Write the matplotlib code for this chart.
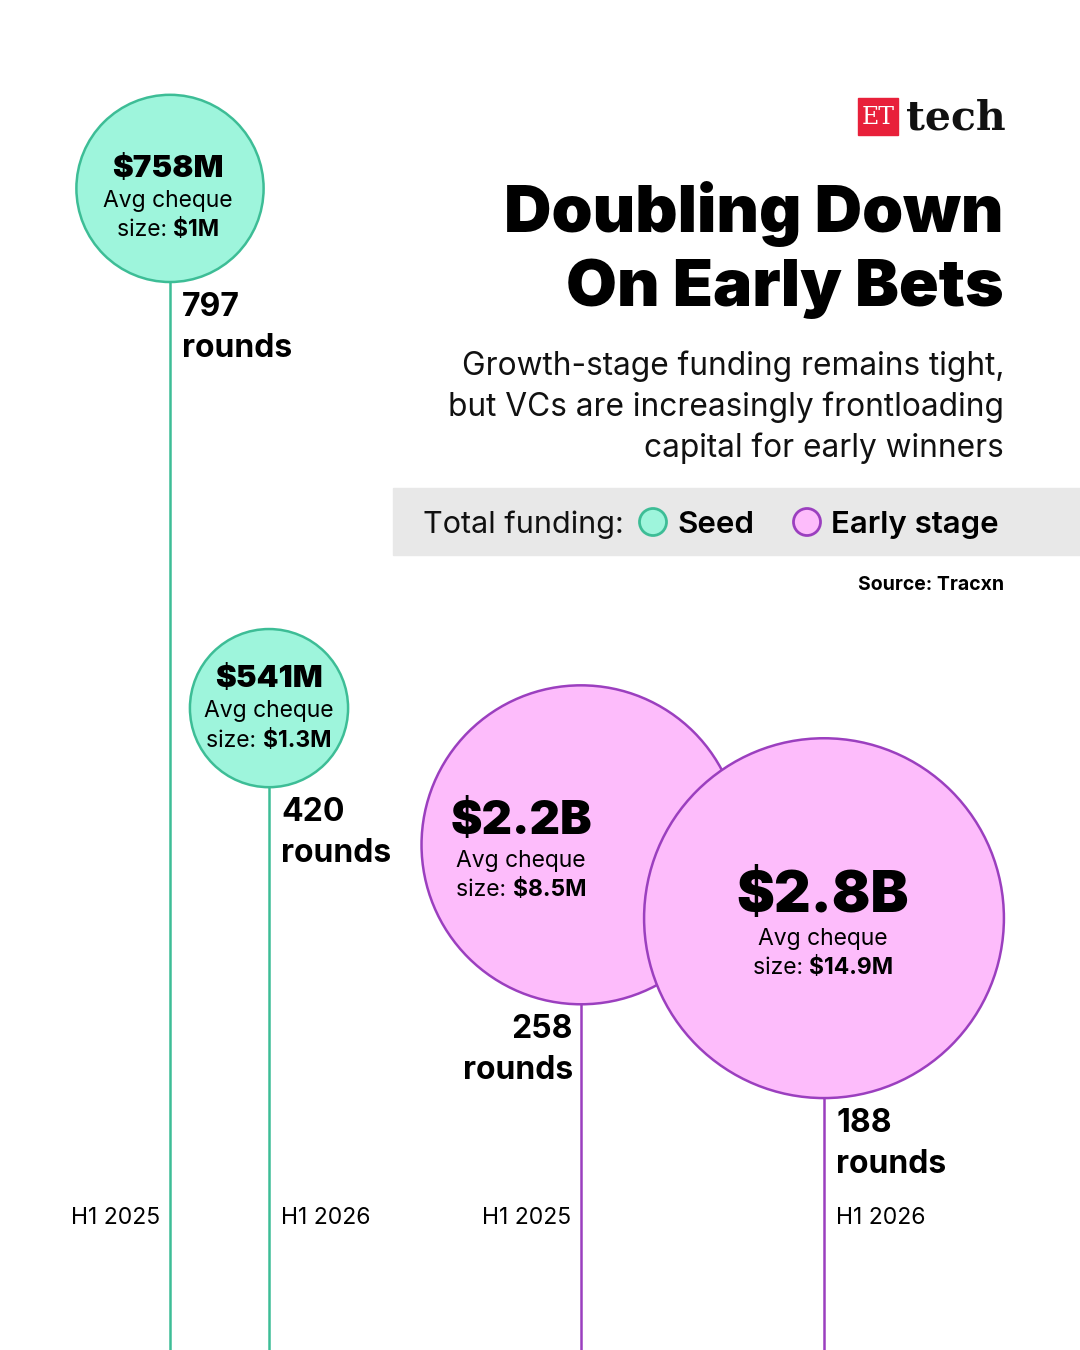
import numpy as np
import matplotlib
matplotlib.use("Agg")
import matplotlib.pyplot as plt
from matplotlib.patches import Circle, Rectangle

# data
stages = ["Seed", "Seed", "Early stage", "Early stage"]
periods = ["H1 2025", "H1 2026", "H1 2025", "H1 2026"]
funding_m = [758, 541, 2200, 2800]
funding_lbl = ["$758M", "$541M", "$2.2B", "$2.8B"]
avg_cheque = ["$1M", "$1.3M", "$8.5M", "$14.9M"]
rounds = [797, 420, 258, 188]

FONT = "Inter"
plt.rcParams["font.family"] = [FONT, "DejaVu Sans"]

seed_fill, seed_edge = "#9ef5dc", "#3dbd96"
early_fill, early_edge = "#fdbcfb", "#9b3fbf"
fills = {"Seed": seed_fill, "Early stage": early_fill}
edges = {"Seed": seed_edge, "Early stage": early_edge}

W, H = 1080, 1350
fig = plt.figure(figsize=(W / 100, H / 100), dpi=100)
ax = fig.add_axes([0, 0, 1, 1])
ax.set_xlim(0, W)
ax.set_ylim(0, H)
ax.axis("off")

# scales (pixels)
y_per_round = 1.34
r_per_sqrt = 3.4
x_pos = [170, 269, 581, 824]

# label layout inside circles: dx, dy big, dy avg, dy size, big font size
lbl_layout = [
    (-2, 19, -13, -42, 22.5),
    (0, 29, -3, -33, 22.5),
    (-60, 23, -16, -45, 34),
    (-1, 21, -21, -50, 41),
]
small_size = 16.5
rounds_side = ["right", "right", "left", "right"]
period_side = ["left", "right", "left", "right"]

renderer = fig.canvas.get_renderer()


def mixed_line(x, y, a, b, size):
    t1 = ax.text(0, y, a, fontsize=size, ha="left", va="center", zorder=6)
    t2 = ax.text(0, y, b, fontsize=size, ha="left", va="center", fontweight="bold", zorder=6)
    w1 = t1.get_window_extent(renderer).width
    w2 = t2.get_window_extent(renderer).width
    start = x - (w1 + w2) / 2
    t1.set_x(start)
    t2.set_x(start + w1)


for i in range(len(rounds)):
    x = x_pos[i]
    bottom = rounds[i] * y_per_round
    r = r_per_sqrt * np.sqrt(funding_m[i])
    cy = bottom + r
    st = stages[i]
    ax.plot([x, x], [0, bottom], color=edges[st], lw=1.8, zorder=1 + i)
    ax.add_patch(Circle((x, cy), r, facecolor=fills[st], edgecolor=edges[st], lw=1.8, zorder=2 + i))

    dx, dy_big, dy_avg, dy_size, bs = lbl_layout[i]
    tx = x + dx
    ax.text(tx, cy + dy_big, funding_lbl[i], fontsize=bs, fontweight="black", ha="center",
            va="center", zorder=6)
    ax.text(tx, cy + dy_avg, "Avg cheque", fontsize=small_size, ha="center", va="center", zorder=6)
    mixed_line(tx, cy + dy_size, "size: ", avg_cheque[i], small_size)

    # rounds label below circle
    if rounds_side[i] == "right":
        rx, ha = x + 12, "left"
    else:
        rx, ha = x - 8, "right"
    ax.text(rx, bottom - 10, f"{rounds[i]}\nrounds", fontsize=23, fontweight="bold",
            ha=ha, va="top", linespacing=1.4)

    if period_side[i] == "left":
        px, ha = x - 10, "right"
    else:
        px, ha = x + 12, "left"
    ax.text(px, 132, periods[i], fontsize=16.5, ha=ha, va="center")

# logo
ax.add_patch(Rectangle((858, H - 135), 40, 37, color="#e8203a", zorder=5))
ax.text(878, H - 117, "ET", fontsize=17, color="white", family="DejaVu Serif",
        ha="center", va="center", zorder=6)
ax.text(906, H - 118, "tech", fontsize=29.5, fontweight="bold", family="DejaVu Serif",
        ha="left", va="center", color="#111111")

# title
ax.text(1004, H - 214, "Doubling Down", fontsize=47.3, fontweight="black", ha="right", va="center")
ax.text(1004, H - 289, "On Early Bets", fontsize=47.3, fontweight="black", ha="right", va="center")
ax.text(1004, H - 407,
        "Growth-stage funding remains tight,\nbut VCs are increasingly frontloading\ncapital for early winners",
        fontsize=22.8, ha="right", va="center", linespacing=1.38, color="#111111")

# legend band
ax.add_patch(Rectangle((393, H - 555), W - 393, 67, color="#e8e8e8", zorder=0))
ax.text(423, H - 525, "Total funding:", fontsize=22, ha="left", va="center", color="#111111")
ax.add_patch(Circle((653, H - 522), 13.5, facecolor=seed_fill, edgecolor=seed_edge, lw=2, zorder=3))
ax.text(677, H - 525, "Seed", fontsize=22.5, fontweight="semibold", ha="left", va="center")
ax.add_patch(Circle((807, H - 522), 13.5, facecolor=early_fill, edgecolor=early_edge, lw=2, zorder=3))
ax.text(831, H - 525, "Early stage", fontsize=22.5, fontweight="semibold", ha="left", va="center")

ax.text(1004, H - 585, "Source: Tracxn", fontsize=14, fontweight="bold", ha="right", va="center")

fig.savefig("out.png", dpi=100, facecolor="white")
